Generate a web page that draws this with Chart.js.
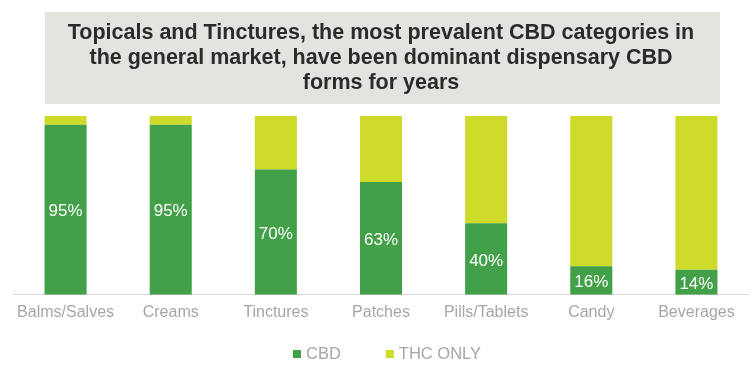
<!DOCTYPE html>
<html>
<head>
<meta charset="utf-8">
<script src="https://cdn.jsdelivr.net/npm/chart.js@4"></script>
<style>
  html, body { margin: 0; padding: 0; background: #fff; }
  #wrap { width: 749px; height: 373px; }
</style>
</head>
<body>
<div id="wrap"><canvas id="cbdChart" width="749" height="373"></canvas></div>
<script>
const categories = ['Balms/Salves', 'Creams', 'Tinctures', 'Patches', 'Pills/Tablets', 'Candy', 'Beverages'];
const cbdValues = [95, 95, 70, 63, 40, 16, 14];
const thcOnlyValues = [5, 5, 30, 37, 60, 84, 86];
const seriesNames = ['CBD', 'THC ONLY'];
const seriesColors = ['#42a148', '#cfdb2a'];
const titleLines = [
    'Topicals and Tinctures, the most prevalent CBD categories in',
    'the general market, have been dominant dispensary CBD',
    'forms for years'
];

const FONT = '"Liberation Sans", Arial, sans-serif';

// grey box behind the title
const titleBox = {
    id: 'titleBox',
    beforeDraw(chart) {
        const c = chart.ctx;
        c.save();
        c.fillStyle = '#e4e3df';
        c.fillRect(45, 12, 675, 92);
        c.restore();
    }
};

// white percent labels in the middle of the CBD segments
const barLabels = {
    id: 'barLabels',
    afterDatasetsDraw(chart) {
        const c = chart.ctx;
        const meta = chart.getDatasetMeta(0);
        c.save();
        c.fillStyle = '#ffffff';
        c.font = '17px ' + FONT;
        c.textAlign = 'center';
        c.textBaseline = 'middle';
        meta.data.forEach((bar, i) => {
            c.fillText(cbdValues[i] + '%', bar.x, (bar.y + bar.base) / 2 + 2);
        });
        c.restore();
    }
};

// legend drawn by hand so the gap between items can be wide without tall padding
const wideLegend = {
    id: 'wideLegend',
    afterDraw(chart) {
        const c = chart.ctx;
        const box = 8, textGap = 5, itemGap = 45;
        c.save();
        c.font = '16.5px ' + FONT;
        c.textBaseline = 'middle';
        const widths = seriesNames.map(n => box + textGap + c.measureText(n).width);
        const total = widths.reduce((a, b) => a + b, 0) + itemGap * (seriesNames.length - 1);
        let x = 387 - total / 2;
        const y = 354;
        seriesNames.forEach((name, i) => {
            c.fillStyle = seriesColors[i];
            c.fillRect(x, y - box / 2, box, box);
            c.fillStyle = '#a6a6a6';
            c.fillText(name, x + box + textGap, y);
            x += widths[i] + itemGap;
        });
        c.restore();
    }
};

new Chart(document.getElementById('cbdChart'), {
    type: 'bar',
    data: {
        labels: categories,
        datasets: [
            { label: seriesNames[0], data: cbdValues, backgroundColor: seriesColors[0] },
            { label: seriesNames[1], data: thcOnlyValues, backgroundColor: seriesColors[1] }
        ]
    },
    options: {
        responsive: false,
        animation: false,
        layout: { padding: { left: 13, right: 0, bottom: 43 } },
        datasets: { bar: { categoryPercentage: 1, barPercentage: 0.4 } },
        scales: {
            x: {
                stacked: true,
                grid: { display: false, drawTicks: false },
                border: { display: true, color: '#d9d9d9' },
                ticks: { color: '#a6a6a6', font: { size: 16, family: FONT }, padding: 8 }
            },
            y: {
                stacked: true,
                display: false,
                min: 0,
                max: 100
            }
        },
        plugins: {
            title: {
                display: true,
                text: titleLines,
                color: '#2b2b2b',
                font: { size: 21.5, weight: 'bold', family: FONT, lineHeight: 1.16 },
                padding: { top: 21, bottom: 20 }
            },
            legend: { display: false },
            tooltip: { enabled: false }
        }
    },
    plugins: [titleBox, barLabels, wideLegend]
});
</script>
</body>
</html>
